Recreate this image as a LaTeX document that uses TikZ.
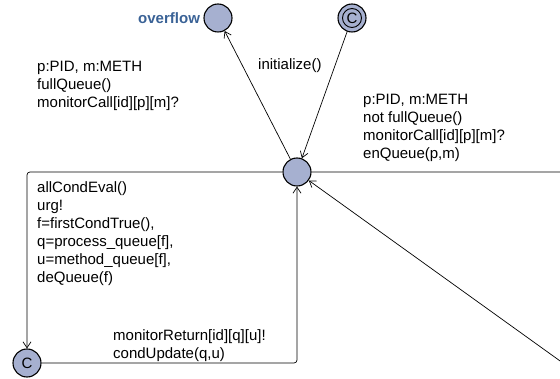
\documentclass[tikz,border=0pt]{standalone}
\usepackage{fontspec}
\setmainfont{Liberation Sans}
\usetikzlibrary{arrows.meta,positioning}
\definecolor{locfill}{RGB}{166,176,208}
\definecolor{locname}{RGB}{58,98,150}

\begin{document}
\begin{tikzpicture}[x=1pt,y=-1pt,
  loc/.style={circle,draw,line width=1.1pt,fill=locfill,minimum size=28pt,inner sep=0pt,font=\fontsize{15}{18}\selectfont},
  lbl/.style={align=left,anchor=north west,inner sep=0pt,font=\fontsize{15}{18}\selectfont},
  edge/.style={line width=0.7pt,-{Straight Barb[length=6pt,width=8pt]},rounded corners=3pt}]
\useasboundingbox (0,0) rectangle (560,379);
\clip (0,0) rectangle (560,379);

% locations
\node[loc] (main) at (297,172) {};
\node[loc] (overflow) at (218,18) {};
\node[loc] (start) at (352,18) {C};
\draw[line width=0.9pt] (start) circle (9.5pt);
\node[loc] (cond) at (27,363) {C};
\node[anchor=east,text=locname,font=\fontsize{15}{18}\selectfont\bfseries] (ovname) at (overflow.west) {overflow};

% free ends of the loop
\coordinate (loopa) at (620,172);
\coordinate (loopb) at (620,404);

% transitions
\draw[edge] (main) -- (overflow);
\draw[edge] (start) -- (main);
\draw[edge] (main.west) -| (cond.north);
\draw[edge] (cond.east) -| (main.south);
\draw[edge,rounded corners=0pt] (main.east) -- (loopa) -- (loopb) -- (main);

% guards, syncs, updates
\node[lbl] (g1) at (37,61) {p:PID, m:METH\\fullQueue()\\monitorCall[id][p][m]?};
\node[lbl,anchor=west] (g2) at (258,66) {initialize()};
\node[lbl] (g3) at (363,94) {p:PID, m:METH\\not fullQueue()\\monitorCall[id][p][m]?\\enQueue(p,m)};
\node[lbl] (g4) at (37,181) {allCondEval()\\urg!\\f=firstCondTrue(),\\q=process\_queue[f],\\u=method\_queue[f],\\deQueue(f)};
\node[lbl] (g5) at (113,329) {monitorReturn[id][q][u]!\\condUpdate(q,u)};
\end{tikzpicture}
\end{document}
